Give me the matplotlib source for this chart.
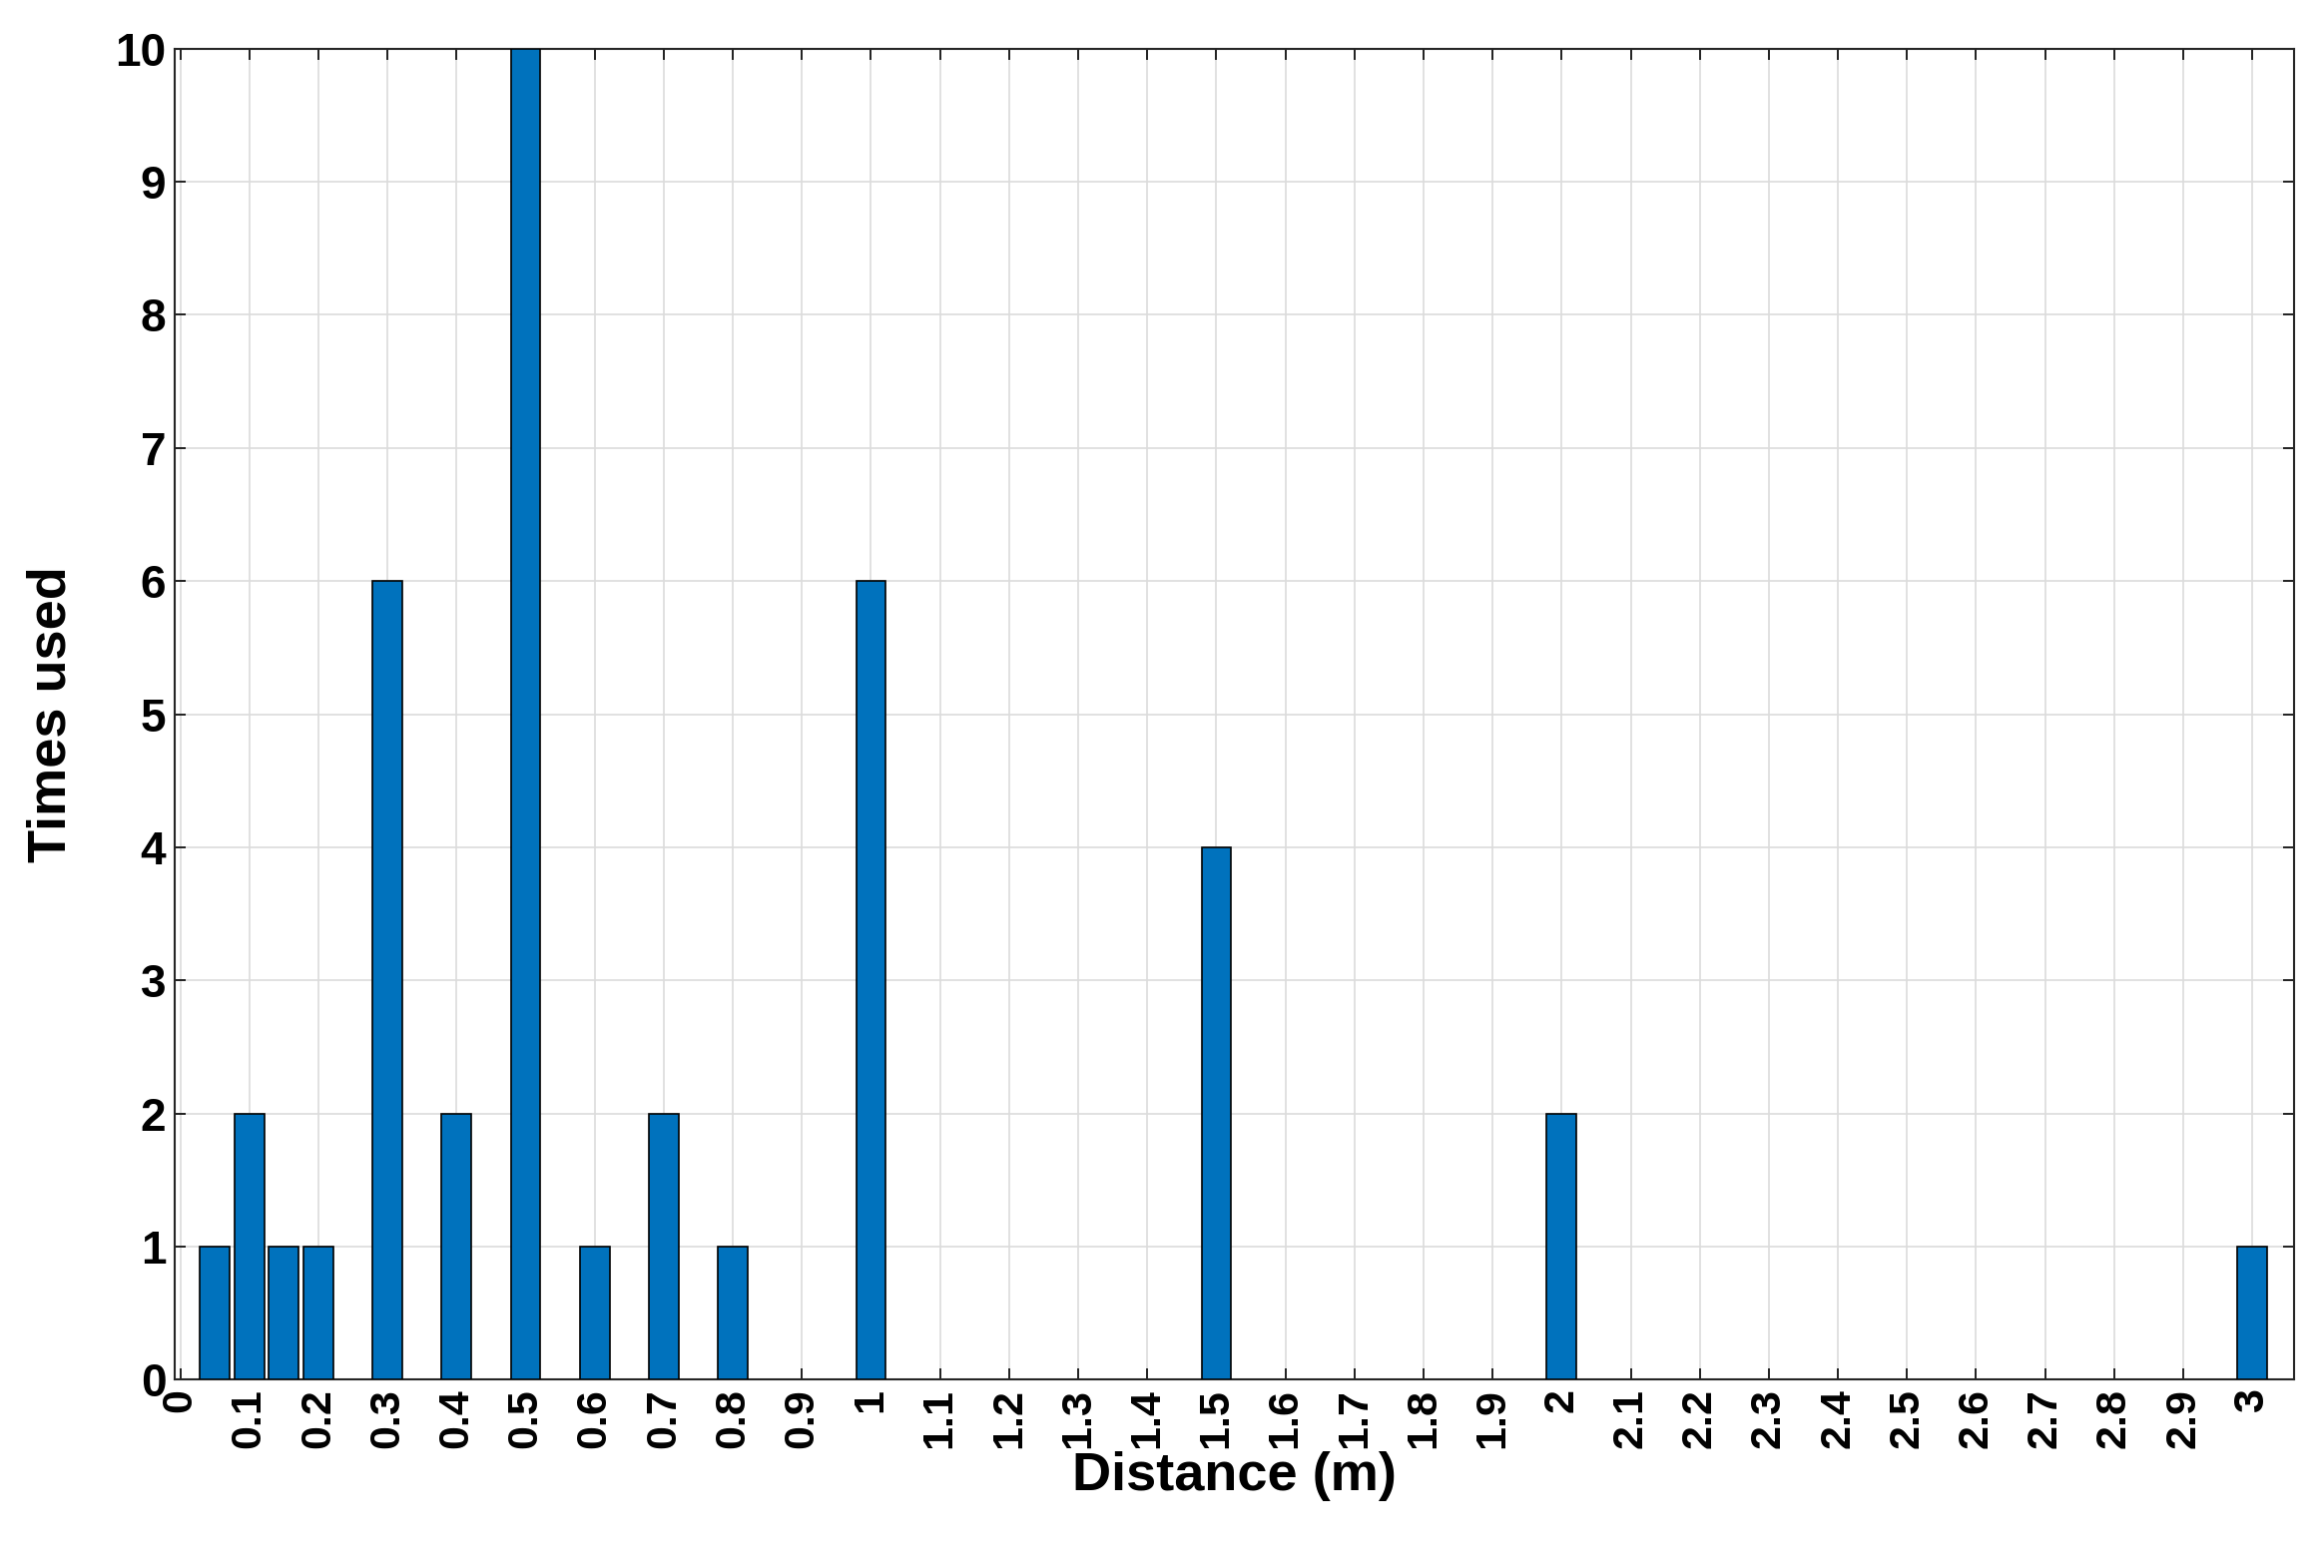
import matplotlib
matplotlib.use("Agg")
import matplotlib.pyplot as plt
import numpy as np

distances = [0.05, 0.1, 0.15, 0.2, 0.3, 0.4, 0.5, 0.6, 0.7, 0.8, 1.0, 1.5, 2.0, 3.0]
counts = [1, 2, 1, 1, 6, 2, 10, 1, 2, 1, 6, 4, 2, 1]
xticks = [round(i * 0.1, 1) for i in range(31)]
xticklabels = ["%g" % t for t in xticks]
yticks = list(range(11))

plt.rcParams['font.family'] = ['Liberation Sans', 'DejaVu Sans']
plt.rcParams['font.weight'] = 'bold'

fig = plt.figure(figsize=(23.28, 15.71), dpi=100)
ax = fig.add_axes([0.075, 0.114 + 0.006, 0.912, 0.849])
ax.bar(distances, counts, width=0.043, color='#0072BD', edgecolor='black', linewidth=1.2, zorder=3)
ax.set_xlim(-0.0086, 3.06)
ax.set_ylim(0, 10)
ax.set_xticks(xticks)
ax.set_xticklabels(xticklabels, rotation=90, ha='center', va='top', fontsize=31, fontweight='bold')
ax.set_yticks(yticks)
ax.set_yticklabels([str(y) for y in yticks], fontsize=33, fontweight='bold')
ax.grid(True, color='#dcdcdc', linewidth=1.2, zorder=0)
ax.tick_params(direction='in', length=8, width=1.2, top=True, right=True, pad=6)
for s in ax.spines.values():
    s.set_color('#262626'); s.set_linewidth(1.5)
ax.set_xlabel('Distance (m)', fontsize=39, fontweight='bold', labelpad=2)
ax.set_ylabel('Times used', fontsize=39, fontweight='bold', labelpad=28)
fig.savefig('out.png', dpi=100, facecolor='white')
